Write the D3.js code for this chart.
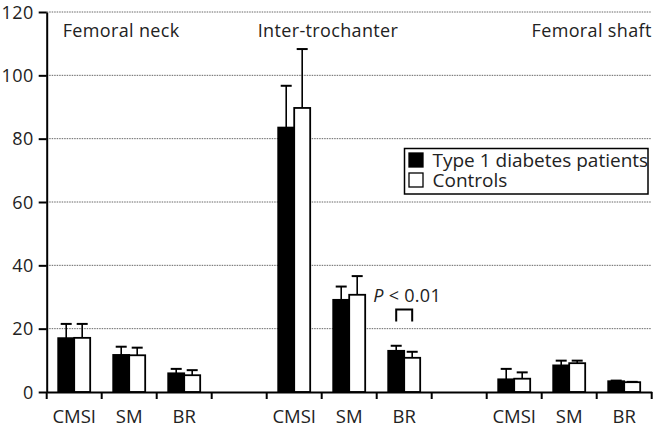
<!DOCTYPE html>
<html>
<head>
<meta charset="utf-8">
<script src="https://cdn.jsdelivr.net/npm/d3@7"></script>
<style>
  body { margin: 0; background: #fff; }
  svg { display: block; font-family: "Open Sans", sans-serif; }
  .grid line { stroke: #666; stroke-dasharray: 1.5 1; stroke-width: 1; }
</style>
</head>
<body>
<div class="container"></div>
<script>
const regions = ['Femoral neck', 'Inter-trochanter', 'Femoral shaft'];
const measures = ['CMSI', 'SM', 'BR'];
const series = ['Type 1 diabetes patients', 'Controls'];

// mean and SD (upper error bar) per region x measure
const t1dMean = [17.0, 11.7, 5.9, 83.5, 29.1, 13.0, 4.0, 8.4, 3.4];
const t1dSD   = [4.5, 2.6, 1.4, 13.2, 4.2, 1.6, 3.3, 1.5, 0.2];
const ctrlMean = [17.1, 11.6, 5.3, 89.7, 30.7, 10.8, 4.2, 9.1, 3.1];
const ctrlSD   = [4.4, 2.4, 1.6, 18.6, 5.9, 1.9, 2.0, 0.8, 0.1];
const yTicks = [0, 20, 40, 60, 80, 100, 120];

const w = 655, h = 431;
const padL = 46.7, padR = 651.7, padT = 12, padB = 392;

const svg = d3.select('.container').append('svg')
  .attr('width', w).attr('height', h);

// 11 slots: 3 measures, gap, 3 measures, gap, 3 measures
const slots = [];
regions.forEach((r, ri) => {
  measures.forEach(m => slots.push(ri + '|' + m));
  if (ri < regions.length - 1) slots.push('gap' + ri);
});

const x = d3.scaleBand().domain(slots).range([padL, padR]).padding(0);
const xInner = d3.scaleBand().domain([0, 1]).range([0, x.bandwidth()])
  .paddingInner(0).paddingOuter(0.72);
const y = d3.scaleLinear().domain([0, 120]).range([padB, padT]);

const data = [];
regions.forEach((r, ri) => {
  measures.forEach((m, mi) => {
    const i = ri * 3 + mi;
    data.push({ slot: ri + '|' + m, s: 0, mean: t1dMean[i], sd: t1dSD[i] });
    data.push({ slot: ri + '|' + m, s: 1, mean: ctrlMean[i], sd: ctrlSD[i] });
  });
});

// gridlines
svg.append('g').attr('class', 'grid')
  .selectAll('line')
  .data(yTicks.filter(d => d > 0))
  .enter().append('line')
  .attr('x1', padL).attr('x2', padR)
  .attr('y1', d => y(d)).attr('y2', d => y(d));

// error bars
const eb = svg.append('g').selectAll('g')
  .data(data).enter().append('g')
  .attr('transform', d => 'translate(' + (x(d.slot) + xInner(d.s) + xInner.bandwidth() / 2) + ',0)');
eb.append('line')
  .attr('y1', d => y(d.mean)).attr('y2', d => y(d.mean + d.sd))
  .attr('stroke', '#000').attr('stroke-width', 1.6);
eb.append('line')
  .attr('x1', -5.5).attr('x2', 5.5)
  .attr('y1', d => y(d.mean + d.sd)).attr('y2', d => y(d.mean + d.sd))
  .attr('stroke', '#000').attr('stroke-width', 2);

// bars
svg.append('g').selectAll('rect')
  .data(data).enter().append('rect')
  .attr('x', d => x(d.slot) + xInner(d.s))
  .attr('y', d => y(d.mean))
  .attr('width', xInner.bandwidth())
  .attr('height', d => y(0) - y(d.mean))
  .attr('fill', d => d.s === 0 ? '#000' : '#fff')
  .attr('stroke', '#000')
  .attr('stroke-width', 1.8);

// y axis
const yAxis = svg.append('g')
  .attr('transform', 'translate(' + padL + ',0)')
  .call(d3.axisLeft(y).tickValues(yTicks).tickSize(8).tickSizeOuter(0));
yAxis.select('.domain').attr('stroke-width', 2);
yAxis.selectAll('.tick line').attr('stroke-width', 2);
yAxis.selectAll('.tick text')
  .attr('x', -13).attr('dy', '0.34em')
  .style('font-size', '18px').style('font-family', '"Open Sans", sans-serif')
  .style('letter-spacing', '0.4px')
  .attr('fill', '#222');

// x axis
const xAxis = svg.append('g')
  .attr('transform', 'translate(0,' + padB + ')')
  .call(d3.axisBottom(x).tickSize(0).tickSizeOuter(0)
    .tickFormat(d => d.startsWith('gap') ? '' : d.split('|')[1]));
xAxis.select('.domain').attr('stroke-width', 2);
xAxis.selectAll('.tick text')
  .attr('y', 31).attr('dy', null)
  .style('font-size', '18.5px').style('font-family', '"Open Sans", sans-serif')
  .attr('fill', '#222');

const bounds = slots.map(s => x(s)).concat([padR]);
xAxis.selectAll('.bound')
  .data(bounds).enter().append('line')
  .attr('class', 'bound')
  .attr('x1', d => d).attr('x2', d => d)
  .attr('y1', 0).attr('y2', 7)
  .attr('stroke', '#000').attr('stroke-width', 2);

// region labels
const lab = svg.append('g')
  .style('font-size', '18px').style('letter-spacing', '0.35px').attr('fill', '#222');
lab.append('text').attr('x', x('0|CMSI') + 16).attr('y', 37).text(regions[0]);
lab.append('text').attr('x', x('1|CMSI') - 9).attr('y', 37).text(regions[1]);
lab.append('text').attr('x', padR).attr('y', 37)
  .attr('text-anchor', 'end').text(regions[2]);

// significance bracket on inter-trochanter BR
const brX = x('1|BR');
const bx0 = brX + xInner(0) + xInner.bandwidth() / 2;
const bx1 = brX + xInner(1) + xInner.bandwidth() / 2;
svg.append('path')
  .attr('d', 'M' + bx0 + ',' + 321.5 + 'V' + 309.5 + 'H' + bx1 + 'V' + 321.5)
  .attr('fill', 'none').attr('stroke', '#000').attr('stroke-width', 2);
const pt = svg.append('text')
  .attr('x', brX - 3.5).attr('y', 302)
  .style('font-size', '18px').style('letter-spacing', '0.3px').attr('fill', '#222');
pt.append('tspan').style('font-style', 'italic').text('P');
pt.append('tspan').text(' < 0.01');

// legend
const lg = svg.append('g').attr('transform', 'translate(404.5,148.5)');
lg.append('rect').attr('width', 243.5).attr('height', 45.5)
  .attr('fill', '#fff').attr('stroke', '#000').attr('stroke-width', 1.5);
lg.selectAll('.key')
  .data(series).enter().append('rect')
  .attr('class', 'key')
  .attr('x', 4.5).attr('y', (d, i) => 4.5 + i * 20)
  .attr('width', 14).attr('height', 14)
  .attr('fill', (d, i) => i === 0 ? '#000' : '#fff')
  .attr('stroke', '#000').attr('stroke-width', 1.3);
const lt = lg.append('text')
  .style('font-size', '19px').attr('fill', '#222');
lt.selectAll('tspan')
  .data(series).enter().append('tspan')
  .attr('x', 28).attr('y', (d, i) => 18.5 + i * 20)
  .text(d => d);
</script>
</body>
</html>
